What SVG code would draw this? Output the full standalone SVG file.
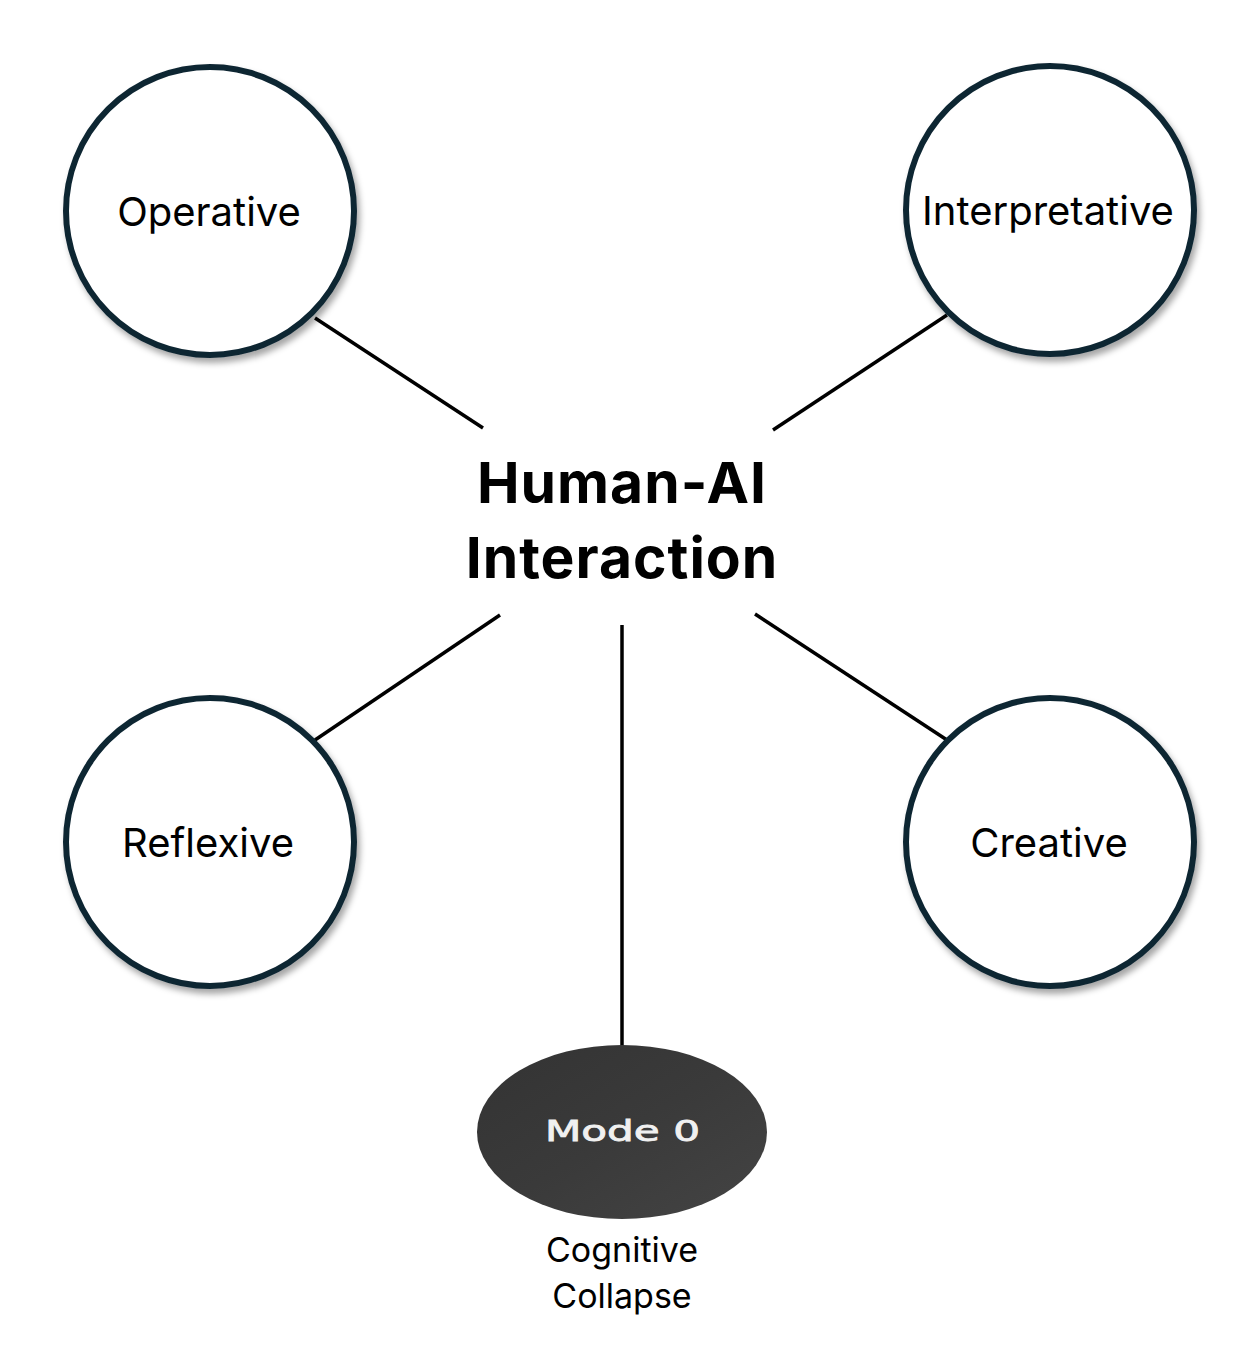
<svg xmlns="http://www.w3.org/2000/svg" width="1252" height="1364" viewBox="0 0 1252 1364">
<defs>
<filter id="sh" x="-20%" y="-20%" width="140%" height="140%">
<feDropShadow dx="3" dy="5" stdDeviation="3" flood-color="#000" flood-opacity="0.35"/>
</filter>
<linearGradient id="dk" x1="0" y1="0" x2="1" y2="1">
<stop offset="0" stop-color="#333"/>
<stop offset="0.5" stop-color="#3a3a3a"/>
<stop offset="1" stop-color="#444"/>
</linearGradient>
</defs>
<style>
.mode{fill:#fff;stroke:#0f2633;stroke-width:6;filter:url(#sh)}
.lbl{font-family:Inter,"Liberation Sans",sans-serif;font-size:40px;fill:#000;text-anchor:middle}
.sub{font-family:Inter,"Liberation Sans",sans-serif;font-size:34px;fill:#000;text-anchor:middle}
.conn line{stroke:#000;stroke-width:3.5}
</style>
<rect width="1252" height="1364" fill="#fff"/>
<g id="connectors" class="conn">
<line x1="315" y1="318" x2="483" y2="428"/>
<line x1="947" y1="315" x2="773" y2="430"/>
<line x1="315" y1="740" x2="500" y2="615"/>
<line x1="947" y1="740" x2="755" y2="614"/>
<line x1="622" y1="625" x2="622" y2="1046"/>
</g>
<g id="operative">
<circle class="mode" cx="210" cy="211" r="144"/>
<text class="lbl" x="209" y="226">Operative</text>
</g>
<g id="interpretative">
<circle class="mode" cx="1050" cy="210" r="144"/>
<text class="lbl" x="1048" y="225">Interpretative</text>
</g>
<g id="reflexive">
<circle class="mode" cx="210" cy="842" r="144"/>
<text class="lbl" x="208" y="857">Reflexive</text>
</g>
<g id="creative">
<circle class="mode" cx="1050" cy="842" r="144"/>
<text class="lbl" x="1049" y="857">Creative</text>
</g>
<g id="center">
<text font-family="Inter,'Liberation Sans',sans-serif" font-weight="bold" font-size="57" letter-spacing="1" text-anchor="middle" x="622" y="503">Human-AI</text>
<text font-family="Inter,'Liberation Sans',sans-serif" font-weight="bold" font-size="57" letter-spacing="1" text-anchor="middle" x="622" y="578">Interaction</text>
</g>
<g id="mode0">
<ellipse cx="622" cy="1132" rx="145" ry="87" fill="url(#dk)"/>
<text font-family="'DejaVu Sans',Verdana,sans-serif" font-size="28" fill="#f0f0f0" stroke="#f0f0f0" stroke-width="0.8" x="545" y="1141" textLength="155" lengthAdjust="spacingAndGlyphs">Mode 0</text>
</g>
<g id="caption">
<text class="sub" x="622" y="1262">Cognitive</text>
<text class="sub" x="622" y="1308">Collapse</text>
</g>
</svg>
